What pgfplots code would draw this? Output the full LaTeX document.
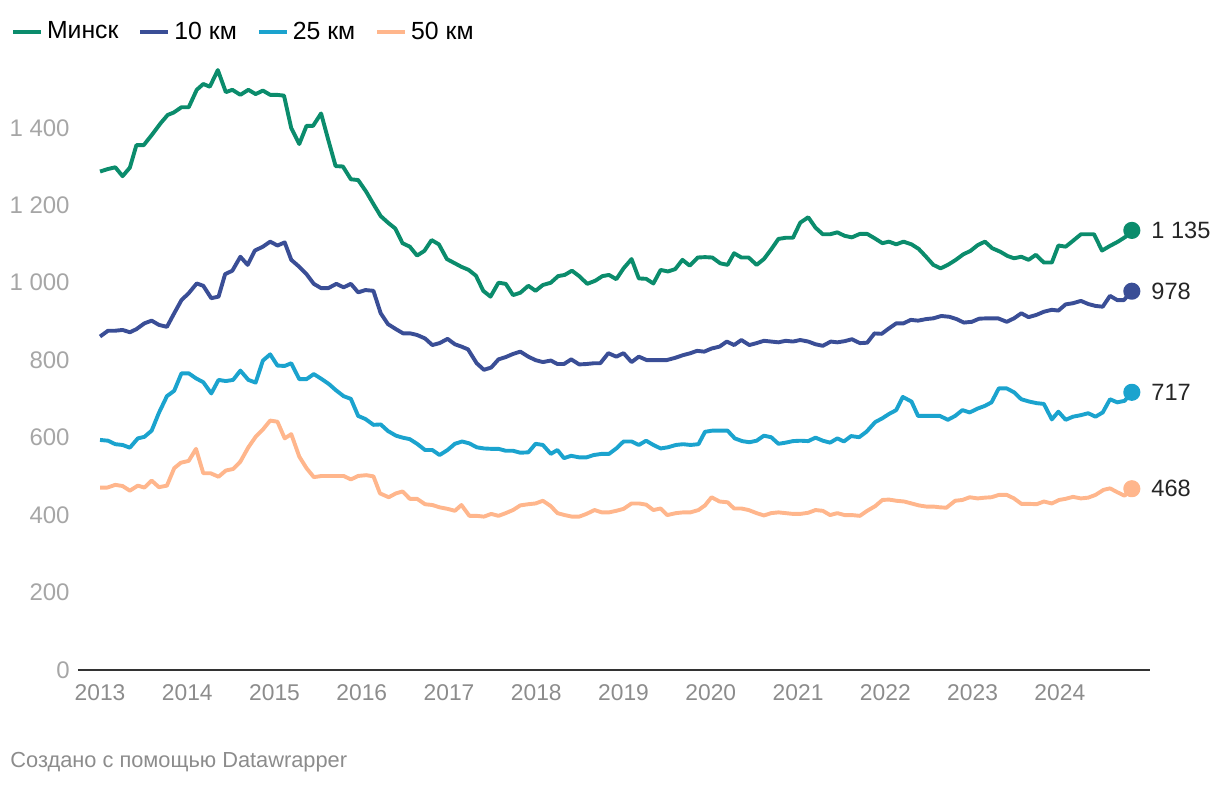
\documentclass[border=0pt]{standalone}
\usepackage{fontspec}
\setmainfont{Liberation Sans}
\usepackage{pgfplots}
\pgfplotsset{compat=1.18}
\definecolor{cMinsk}{HTML}{0B8C6C}
\definecolor{cTen}{HTML}{3A4E96}
\definecolor{cTwf}{HTML}{1BA3CE}
\definecolor{cFif}{HTML}{FFB68C}
\definecolor{gLab}{HTML}{A6A6A6}
\definecolor{gYear}{HTML}{8C8C8C}
\begin{document}
\begin{tikzpicture}
\path[use as bounding box] (0,0) rectangle (610pt,393pt);
\begin{axis}[
  at={(39pt,58pt)}, anchor=south west,
  scale only axis, width=536pt, height=305pt,
  xmin=-3.03, xmax=144.4, ymin=0, ymax=1575,
  clip=false,
  axis x line*=bottom, axis y line*=left,
  x axis line style={draw=black!80, line width=0.75pt, -},
  y axis line style={draw=none},
  xtick={0,12,24,36,48,60,72,84,96,108,120,132},
  xticklabels={2013,2014,2015,2016,2017,2018,2019,2020,2021,2022,2023,2024},
  ytick={0,200,400,600,800,1000,1200,1400},
  yticklabels={0,200,400,600,800,{1 000},{1 200},{1 400}},
  major tick length=0pt,
  tick style={draw=none},
  xticklabel style={anchor=center, yshift=-11.5pt, font=\fontsize{11.4pt}{13pt}\selectfont, text=gYear},
  yticklabel style={anchor=east, inner sep=0pt, xshift=-4pt, font=\fontsize{12pt}{14pt}\selectfont, text=gLab},
  legend style={at={(-0.0625,1.046)}, anchor=west, draw=none, fill=none,
    legend columns=4, font=\fontsize{12.4pt}{14pt}\selectfont,
    /tikz/every even column/.append style={column sep=8pt},
    inner sep=0pt, outer sep=0pt},
  legend cell align=left,
  legend image code/.code={\draw[line width=2pt] (0pt,0pt) -- (14pt,0pt);},
  every axis plot/.append style={line width=1.95pt, line join=round},
]
\addplot[cMinsk, no marks] coordinates {
(0.0,1287)(1.0,1293)(2.1,1298)(3.1,1275)(4.1,1297)(5.0,1355)(6.0,1355)(7.1,1381)(8.3,1411)(9.3,1433)
(10.1,1439)(11.2,1453)(12.2,1453)(13.3,1498)(14.2,1513)(15.1,1506)(16.2,1549)(17.3,1492)(18.2,1498)(19.3,1485)
(20.4,1498)(21.4,1487)(22.4,1496)(23.4,1485)(24.3,1485)(25.3,1483)(26.3,1399)(27.4,1358)(28.4,1405)(29.3,1405)
(30.4,1437)(31.4,1368)(32.4,1301)(33.4,1300)(34.5,1267)(35.5,1265)(36.6,1235)(37.6,1203)(38.6,1172)(39.6,1155)
(40.6,1140)(41.6,1102)(42.6,1093)(43.6,1070)(44.6,1082)(45.6,1110)(46.6,1099)(47.7,1061)(48.8,1050)(49.7,1041)
(50.7,1033)(51.7,1018)(52.7,979)(53.7,964)(54.8,1000)(55.8,997)(56.8,968)(57.8,974)(58.9,992)(59.9,979)
(60.9,994)(62.0,1000)(63.0,1017)(63.9,1020)(64.9,1031)(65.9,1017)(67.0,997)(68.1,1005)(69.1,1017)(70.0,1020)
(71.0,1009)(72.0,1037)(73.1,1061)(74.1,1011)(75.1,1010)(76.1,998)(77.1,1033)(78.1,1029)(79.1,1035)(80.1,1059)
(81.1,1044)(82.2,1065)(83.2,1066)(84.2,1065)(85.3,1050)(86.3,1046)(87.2,1076)(88.2,1065)(89.2,1065)(90.3,1046)
(91.3,1061)(92.3,1086)(93.3,1113)(94.3,1116)(95.3,1116)(96.3,1155)(97.4,1169)(98.4,1142)(99.4,1125)(100.4,1125)
(101.4,1130)(102.4,1121)(103.4,1117)(104.5,1126)(105.5,1126)(106.5,1115)(107.6,1102)(108.5,1106)(109.5,1099)(110.5,1106)
(111.6,1099)(112.6,1087)(113.6,1067)(114.6,1046)(115.6,1037)(116.6,1046)(117.7,1059)(118.7,1073)(119.7,1082)(120.7,1097)
(121.7,1106)(122.7,1089)(123.8,1080)(124.8,1069)(125.7,1063)(126.7,1067)(127.7,1059)(128.7,1072)(129.8,1052)(130.9,1052)
(131.8,1096)(132.8,1093)(133.8,1108)(134.9,1125)(135.9,1125)(136.7,1125)(137.8,1083)(138.9,1095)(140.0,1106)(141.0,1118)
(141.9,1135)
};
\addlegendentry{Минск}
\addplot[cTen, no marks] coordinates {
(0.0,861)(1.1,876)(2.1,876)(3.1,878)(4.1,872)(5.0,880)(6.1,895)(7.1,902)(8.1,891)(9.2,886)
(10.2,921)(11.2,955)(12.2,973)(13.3,998)(14.2,992)(15.3,960)(16.3,964)(17.2,1022)(18.2,1031)(19.3,1067)
(20.3,1046)(21.3,1083)(22.4,1093)(23.4,1106)(24.4,1096)(25.4,1104)(26.3,1059)(27.4,1041)(28.4,1022)(29.4,997)
(30.4,986)(31.4,986)(32.5,997)(33.5,988)(34.5,997)(35.5,975)(36.5,981)(37.6,979)(38.6,921)(39.6,893)
(40.7,880)(41.7,869)(42.7,869)(43.6,865)(44.7,856)(45.7,839)(46.7,844)(47.8,855)(48.8,841)(49.7,835)
(50.6,828)(51.8,792)(52.8,775)(53.8,781)(54.8,802)(55.8,808)(56.8,816)(57.8,822)(58.9,809)(59.9,800)
(60.9,795)(62.0,799)(62.9,790)(63.8,790)(64.8,802)(65.9,789)(66.9,790)(67.9,792)(68.8,792)(69.9,818)
(71.0,809)(72.0,818)(73.1,795)(74.1,809)(75.2,800)(76.1,800)(77.0,800)(77.9,800)(79.1,806)(80.2,813)
(81.2,818)(82.1,824)(83.1,822)(84.1,830)(85.2,835)(86.2,848)(87.2,839)(88.2,852)(89.3,839)(90.3,844)
(91.3,850)(92.3,848)(93.3,846)(94.3,850)(95.3,848)(96.3,852)(97.4,848)(98.4,841)(99.4,837)(100.5,848)
(101.4,846)(102.4,849)(103.4,854)(104.5,844)(105.5,845)(106.5,869)(107.5,868)(108.5,882)(109.5,895)(110.5,895)
(111.5,904)(112.5,902)(113.6,906)(114.6,908)(115.7,914)(116.8,912)(117.8,906)(118.8,897)(119.9,899)(120.9,907)
(122.0,908)(123.5,908)(124.7,899)(125.7,908)(126.7,921)(127.7,911)(128.8,917)(129.8,925)(130.9,930)(131.8,928)
(132.8,944)(133.8,947)(134.9,953)(135.9,945)(136.9,940)(137.9,938)(138.9,966)(139.9,955)(140.8,955)(141.9,978)
};
\addlegendentry{10 км}
\addplot[cTwf, no marks] coordinates {
(0.0,594)(1.1,592)(2.1,583)(3.1,581)(4.1,574)(5.2,598)(6.1,602)(7.1,618)(8.1,664)(9.2,707)
(10.2,721)(11.2,766)(12.2,766)(13.2,753)(14.2,743)(15.3,714)(16.3,749)(17.3,746)(18.3,749)(19.3,773)
(20.4,749)(21.4,742)(22.4,799)(23.4,815)(24.4,786)(25.4,785)(26.3,792)(27.4,751)(28.4,751)(29.4,764)
(30.5,751)(31.5,738)(32.4,723)(33.5,707)(34.5,700)(35.5,656)(36.5,648)(37.6,633)(38.6,634)(39.6,617)
(40.7,605)(41.6,600)(42.6,596)(43.6,584)(44.7,568)(45.7,568)(46.7,555)(47.8,568)(48.8,584)(49.8,590)
(50.8,585)(51.8,575)(52.8,572)(53.8,571)(54.8,571)(55.8,566)(56.8,566)(57.8,561)(58.9,562)(59.9,584)
(60.9,581)(62.0,558)(62.9,568)(63.8,547)(64.8,553)(65.9,549)(66.9,549)(67.9,555)(69.0,558)(70.0,558)
(71.0,572)(72.0,590)(73.1,590)(74.1,581)(75.1,592)(76.1,581)(77.1,572)(78.1,575)(79.2,581)(80.2,583)
(81.2,581)(82.3,583)(83.2,615)(84.2,618)(85.3,618)(86.3,618)(87.3,598)(88.3,591)(89.3,588)(90.3,592)
(91.3,605)(92.3,601)(93.3,584)(94.3,587)(95.3,591)(96.3,592)(97.4,591)(98.4,600)(99.4,592)(100.4,587)
(101.4,598)(102.3,590)(103.3,604)(104.4,601)(105.4,615)(106.6,640)(107.6,650)(108.5,661)(109.5,671)(110.4,705)
(111.6,693)(112.5,656)(113.6,656)(114.5,656)(115.5,656)(116.6,646)(117.6,656)(118.6,671)(119.6,665)(120.7,675)
(121.7,682)(122.6,691)(123.6,727)(124.7,727)(125.7,717)(126.7,699)(127.8,693)(128.8,689)(129.8,687)(130.9,647)
(131.8,667)(132.8,646)(133.8,654)(134.9,658)(135.9,663)(136.9,654)(137.9,665)(138.9,699)(139.9,691)(140.9,695)
(141.9,717)
};
\addlegendentry{25 км}
\addplot[cFif, no marks] coordinates {
(0.0,471)(1.0,471)(2.1,478)(3.1,475)(4.1,463)(5.2,476)(6.1,471)(7.1,489)(8.1,472)(9.2,476)
(10.2,521)(11.1,535)(12.2,540)(13.2,571)(14.2,508)(15.2,508)(16.3,499)(17.3,515)(18.3,519)(19.3,538)
(20.4,575)(21.4,602)(22.4,621)(23.4,644)(24.4,641)(25.4,598)(26.3,609)(27.4,551)(28.4,521)(29.4,498)
(30.5,501)(31.5,501)(32.4,501)(33.5,501)(34.5,492)(35.5,501)(36.6,503)(37.6,500)(38.5,456)(39.7,446)
(40.7,456)(41.6,461)(42.6,442)(43.6,442)(44.7,428)(45.7,426)(46.7,420)(47.8,416)(48.8,411)(49.7,426)
(50.8,398)(51.8,398)(52.8,396)(53.8,403)(54.8,398)(55.8,405)(56.8,413)(57.8,425)(58.9,428)(59.9,430)
(60.9,437)(62.0,423)(62.9,405)(63.9,400)(64.9,396)(65.9,396)(66.9,403)(68.0,413)(69.0,407)(70.0,407)
(71.0,411)(72.0,416)(73.1,430)(74.1,430)(75.1,427)(76.1,413)(77.1,417)(78.0,400)(79.2,405)(80.2,407)
(81.2,407)(82.3,413)(83.2,425)(84.1,446)(85.2,435)(86.3,433)(87.2,417)(88.2,417)(89.2,413)(90.3,405)
(91.3,399)(92.3,405)(93.3,407)(94.3,405)(95.3,403)(96.3,403)(97.4,406)(98.4,413)(99.4,411)(100.4,400)
(101.4,405)(102.4,400)(103.4,400)(104.5,398)(105.5,411)(106.6,423)(107.6,439)(108.5,440)(109.5,437)(110.6,435)
(111.6,430)(112.6,425)(113.6,422)(114.6,422)(115.5,420)(116.4,419)(117.6,437)(118.6,439)(119.6,446)(120.7,443)
(121.7,445)(122.6,446)(123.6,452)(124.7,452)(125.7,443)(126.7,429)(127.7,429)(128.8,428)(129.8,435)(130.9,430)
(131.9,439)(132.8,442)(133.8,447)(134.9,443)(135.9,445)(136.9,452)(138.0,465)(138.9,469)(139.9,459)(140.9,450)
(141.9,468)
};
\addlegendentry{50 км}
% end markers with labels
\addplot[cMinsk, only marks, mark=*, mark size=3.3pt, forget plot,
  point meta=explicit symbolic, nodes near coords,
  every node near coord/.append style={anchor=west, xshift=5.5pt, text=black!85, font=\fontsize{11.8pt}{13pt}\selectfont}]
  coordinates {(141.9,1135) [1 135]};
\addplot[cTen, only marks, mark=*, mark size=3.3pt, forget plot,
  point meta=explicit symbolic, nodes near coords,
  every node near coord/.append style={anchor=west, xshift=5.5pt, text=black!85, font=\fontsize{11.8pt}{13pt}\selectfont}]
  coordinates {(141.9,978) [978]};
\addplot[cTwf, only marks, mark=*, mark size=3.3pt, forget plot,
  point meta=explicit symbolic, nodes near coords,
  every node near coord/.append style={anchor=west, xshift=5.5pt, text=black!85, font=\fontsize{11.8pt}{13pt}\selectfont}]
  coordinates {(141.9,717) [717]};
\addplot[cFif, only marks, mark=*, mark size=3.3pt, forget plot,
  point meta=explicit symbolic, nodes near coords,
  every node near coord/.append style={anchor=west, xshift=5.5pt, text=black!85, font=\fontsize{11.8pt}{13pt}\selectfont}]
  coordinates {(141.9,468) [468]};
\node[anchor=west, inner sep=0pt, text=gYear, font=\fontsize{10.9pt}{12pt}\selectfont]
  at (axis description cs:-0.0634,-0.1508) {Создано с помощью Datawrapper};
\end{axis}
\end{tikzpicture}
\end{document}
